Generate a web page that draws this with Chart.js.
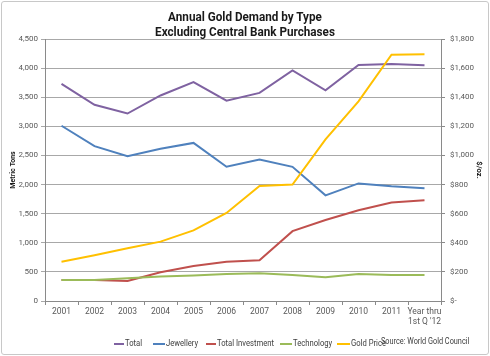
<!DOCTYPE html>
<html>
<head>
<meta charset="utf-8">
<script src="https://cdn.jsdelivr.net/npm/chart.js@4.4.1/dist/chart.umd.min.js"></script>
<style>
  html, body { margin: 0; padding: 0; background: #fff; }
  #wrap { position: relative; width: 490px; height: 356px; overflow: hidden; background: #fff;
          font-family: Roboto, sans-serif; }
  #frame { position: absolute; left: 1px; top: 1px; width: 486px; height: 352px;
           border: 1px solid #c8c8c8; border-radius: 3px; pointer-events: none; }
  canvas { position: absolute; left: 0; top: 0; }
  .title { position: absolute; left: 0; width: 490px; text-align: center; font-weight: bold;
           font-size: 13px; color: #1a1a1a; line-height: 15px; transform: scaleX(0.9); transform-origin: 245px 0; }
  .legline { position: absolute; height: 2px; top: 343px; }
  .legtxt { position: absolute; top: 337px; font-size: 8.5px; color: #404040; line-height: 12px;
            white-space: nowrap; transform: scaleX(0.9); transform-origin: 0 0; }
  #source { position: absolute; left: 381px; top: 334px; font-size: 9.5px; color: #404040; white-space: nowrap;
            line-height: 13px; transform: scaleX(0.77); transform-origin: 0 0; }
</style>
</head>
<body>
<div id="wrap">
  <canvas id="c" width="490" height="356"></canvas>
  <div class="title" style="top:9px">Annual Gold Demand by Type</div>
  <div class="title" style="top:24px">Excluding Central Bank Purchases</div>
  <div id="legend"></div>
  <div id="source">Source: World Gold Council</div>
  <div id="frame"></div>
</div>
<script>
const categories = ['2001','2002','2003','2004','2005','2006','2007','2008','2009','2010','2011',['Year thru',"1st Q '12"]];
const total      = [3730, 3370, 3220, 3530, 3760, 3440, 3575, 3960, 3620, 4055, 4070, 4050];
const jewellery  = [3010, 2660, 2485, 2615, 2715, 2305, 2430, 2305, 1815, 2020, 1970, 1935];
const investment = [360, 360, 345, 495, 600, 675, 700, 1200, 1390, 1560, 1690, 1730];
const technology = [360, 360, 390, 420, 440, 465, 475, 445, 410, 465, 445, 445];
const goldPrice  = [270, 315, 362, 408, 485, 605, 790, 800, 1110, 1372, 1692, 1695];
const seriesNames = ['Total','Jewellery','Total Investment','Technology','Gold Price'];
const seriesColors = ['#7f62a1','#4f81bd','#c0504d','#9bbb59','#ffc000'];
const leftTicks = [0, 500, 1000, 1500, 2000, 2500, 3000, 3500, 4000, 4500];
const rightTicks = [0, 200, 400, 600, 800, 1000, 1200, 1400, 1600, 1800];

const FONT = 'Roboto, sans-serif';
const GRID = '#a8a8a8';
const AXIS = '#8a8a8a';
const TXT = '#595959';

const seriesData = [total, jewellery, investment, technology, goldPrice];
const datasets = seriesData.map((d, i) => ({
  label: seriesNames[i],
  data: d,
  borderColor: seriesColors[i],
  backgroundColor: seriesColors[i],
  borderWidth: 2,
  pointRadius: 0,
  tension: 0,
  fill: false,
  yAxisID: i === 4 ? 'y1' : 'y',
  order: 5 - i
}));

new Chart(document.getElementById('c'), {
  type: 'line',
  data: { labels: categories, datasets },
  options: {
    responsive: false,
    animation: false,
    layout: { padding: { top: 39, bottom: 25, left: 0, right: 0 } },
    plugins: { legend: { display: false }, title: { display: false }, tooltip: { enabled: false } },
    scales: {
      x: {
        offset: true,
        grid: { offset: true, drawOnChartArea: false, drawTicks: true, tickLength: 4, color: AXIS },
        border: { color: AXIS },
        ticks: { font: { family: FONT, size: 8.5 }, color: TXT, padding: 2, maxRotation: 0, autoSkip: false },
        afterFit: s => { s.height = 30; }
      },
      y: {
        position: 'left',
        min: 0, max: 4500,
        afterBuildTicks: s => { s.ticks = leftTicks.map(v => ({ value: v })); },
        grid: { color: GRID, tickLength: 4, drawTicks: true },
        border: { color: AXIS },
        ticks: { font: { family: FONT, size: 8 }, color: TXT, padding: 3,
                 callback: v => v.toLocaleString('en-US') },
        title: { display: true, text: 'Metric Tons', font: { family: FONT, size: 7, weight: 'bold' }, color: '#1a1a1a', padding: { top: 9, bottom: 0 } },
        afterFit: s => { s.width = 45; }
      },
      y1: {
        position: 'right',
        min: 0, max: 1800,
        afterBuildTicks: s => { s.ticks = rightTicks.map(v => ({ value: v })); },
        grid: { drawOnChartArea: false, color: AXIS, tickLength: 4, drawTicks: true },
        border: { color: AXIS },
        ticks: { font: { family: FONT, size: 8 }, color: TXT, padding: 5,
                 callback: v => v === 0 ? '$-' : '$' + v.toLocaleString('en-US') },
        title: { display: true, text: '$/oz.', font: { family: FONT, size: 7.5, weight: 'bold' }, color: '#1a1a1a', padding: { top: 7, bottom: 0 } },
        afterFit: s => { s.width = 49; }
      }
    }
  }
});

// HTML legend
const legendLineLefts = [114, 153, 206, 280, 337];
const legendTextLefts = [125, 166, 217, 293, 351];
const legend = document.getElementById('legend');
seriesNames.forEach((n, i) => {
  const l = document.createElement('div');
  l.className = 'legline';
  l.style.left = legendLineLefts[i] + 'px';
  l.style.width = (legendTextLefts[i] - legendLineLefts[i] - 1) + 'px';
  l.style.background = seriesColors[i];
  legend.appendChild(l);
  const t = document.createElement('div');
  t.className = 'legtxt';
  t.style.left = legendTextLefts[i] + 'px';
  t.textContent = n;
  legend.appendChild(t);
});
</script>
</body>
</html>
